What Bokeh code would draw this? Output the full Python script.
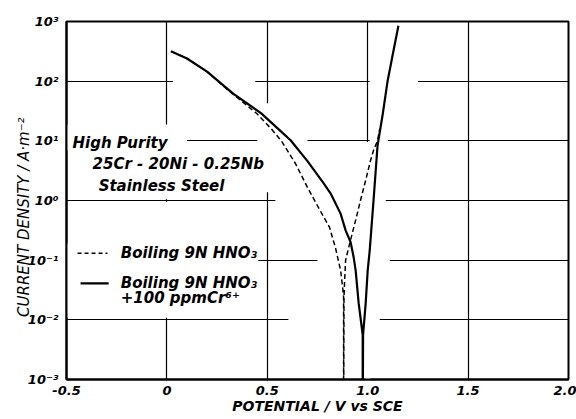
from bokeh.plotting import figure
from bokeh.models import Range1d, FixedTicker, CustomJSTickFormatter, Label, BoxAnnotation
from bokeh.embed import file_html
from bokeh.resources import INLINE
import numpy as np

# Boiling 9N HNO3 (dashed)
potential_plain = [0.02, 0.10, 0.20, 0.30, 0.36, 0.45, 0.52, 0.57, 0.64, 0.70, 0.76, 0.81,
                   0.84, 0.865, 0.875, 0.88, 0.88, 0.882, 0.885, 0.89, 0.914, 0.94, 0.964,
                   0.99, 1.014, 1.03, 1.049, 1.06]
log_cd_plain = [2.50, 2.38, 2.16, 1.86, 1.70, 1.45, 1.20, 1.00, 0.62, 0.22, -0.15, -0.45,
                -0.80, -1.17, -1.45, -1.62, -4.0, -1.62, -1.35, -1.00, -0.67, -0.33, 0.00,
                0.34, 0.67, 0.85, 1.00, 1.20]

# Boiling 9N HNO3 + 100 ppm Cr6+ (solid)
potential_cr = [0.02, 0.10, 0.20, 0.33, 0.47, 0.58, 0.616, 0.70, 0.78, 0.815, 0.865, 0.89,
                0.915, 0.93, 0.94, 0.955, 0.975, 0.975, 0.977, 0.99, 1.00, 1.01, 1.029,
                1.049, 1.075, 1.099, 1.125, 1.153]
log_cd_cr = [2.50, 2.38, 2.16, 1.79, 1.46, 1.12, 1.01, 0.66, 0.29, 0.12, -0.22, -0.50,
             -0.70, -0.95, -1.17, -1.72, -2.25, -4.0, -2.25, -1.72, -1.17, -0.84, 0.00,
             0.92, 1.45, 2.00, 2.45, 2.93]

x_ticks = [-0.5, 0.0, 0.5, 1.0, 1.5, 2.0]
x_tick_labels = ["-0.5", "0", "0.5", "1.0", "1.5", "2.0"]
y_ticks = [1e-3, 1e-2, 1e-1, 1e0, 1e1, 1e2, 1e3]
y_tick_labels = ["10\u207b\u00b3", "10\u207b\u00b2", "10\u207b\u00b9", "10\u2070",
                 "10\u00b9", "10\u00b2", "10\u00b3"]

FONT = "DejaVu Sans"

p = figure(width=576, height=419, x_range=Range1d(-0.5, 2.0), y_range=Range1d(1e-3, 1e3),
           y_axis_type="log", output_backend="svg", toolbar_location=None,
           min_border_left=66, min_border_top=21, min_border_right=8, min_border_bottom=40)
p.background_fill_color = "white"
p.border_fill_color = "white"
p.outline_line_color = "black"
p.outline_line_width = 2

p.xaxis.ticker = FixedTicker(ticks=x_ticks)
p.yaxis.ticker = FixedTicker(ticks=y_ticks)
p.xaxis.formatter = CustomJSTickFormatter(args=dict(tvals=x_ticks, tlabels=x_tick_labels), code="""
for (let i = 0; i < tvals.length; i++) { if (Math.abs(tick - tvals[i]) < 1e-9) return tlabels[i]; }
return '';
""")
p.yaxis.formatter = CustomJSTickFormatter(args=dict(tvals=y_ticks, tlabels=y_tick_labels), code="""
for (let i = 0; i < tvals.length; i++) { if (Math.abs(Math.log10(tick) - Math.log10(tvals[i])) < 1e-6) return tlabels[i]; }
return '';
""")

for ax in (p.xaxis, p.yaxis):
    ax.axis_line_color = "black"
    ax.axis_line_width = 2
    ax.major_tick_line_color = None
    ax.minor_tick_line_color = None
    ax.major_label_text_font = FONT
    ax.major_label_text_font_style = "bold italic"
    ax.major_label_text_font_size = "13px"
    ax.major_label_text_color = "black"
    ax.axis_label_text_font = FONT
    ax.axis_label_text_color = "black"

p.xaxis.major_label_standoff = 0
p.xaxis.axis_label = "POTENTIAL / V vs SCE"
p.xaxis.axis_label_text_font_style = "bold italic"
p.xaxis.axis_label_text_font_size = "14px"
p.xaxis.axis_label_standoff = 0

p.yaxis.major_label_standoff = 2
p.yaxis.axis_label = "CURRENT  DENSITY    /    A\u00b7m\u207b\u00b2"
p.yaxis.axis_label_text_font_style = "italic"
p.yaxis.axis_label_text_font_size = "15px"
p.yaxis.axis_label_standoff = -8

for g in (p.xgrid, p.ygrid):
    g.grid_line_color = "black"
    g.grid_line_alpha = 1.0
    g.grid_line_width = 1.2

# white patches (drawn over the grid, under the curves) that break the grid
# lines around the texts and where the curves cross them, as in the original
gaps = [(-0.5, 0.1, 0.84, 1.27), (-0.405, 0.42, 0.085, 0.84), (-0.5, 0.455, -1.96, -0.72),
        (-0.012, 0.012, 0.02, 1.27), (-0.012, 0.012, -1.96, -0.02),
        (0.03, 0.44, 1.96, 2.04), (1.01, 1.25, 1.96, 2.04),
        (0.45, 0.70, 0.96, 1.04), (1.01, 1.10, 0.96, 1.04),
        (0.54, 1.09, -0.04, 0.04), (0.75, 1.11, -1.04, -0.96), (0.605, 1.06, -2.04, -1.96),
        (0.488, 0.512, 0.14, 1.63), (0.988, 1.012, -3.0, 0.98)]
for l, r, b, t in gaps:
    p.add_layout(BoxAnnotation(left=l, right=r, bottom=10**b, top=10**t, fill_color="white",
                               fill_alpha=1.0, line_color=None, level="underlay"))

cd_plain = [10 ** v for v in log_cd_plain]
cd_cr = [10 ** v for v in log_cd_cr]

p.line(potential_plain, cd_plain, line_color="black", line_width=1.5, line_dash="5 3")
p.line(potential_cr, cd_cr, line_color="black", line_width=2.2)

# legend samples
p.line([-0.445, -0.296], [10**-0.886, 10**-0.886], line_color="black", line_width=1.5, line_dash="4 3")
p.line([-0.43, -0.29], [10**-1.389, 10**-1.389], line_color="black", line_width=2.2)

def add_text(x, logy, txt, size="15px", style="bold italic"):
    p.add_layout(Label(x=x, y=10**logy, text=txt, text_font=FONT, text_font_style=style,
                       text_font_size=size, text_baseline="middle", text_align="left",
                       text_color="black"))

add_text(-0.47, 0.97, "High Purity")
add_text(-0.37, 0.62, "25Cr - 20Ni - 0.25Nb")
add_text(-0.34, 0.25, "Stainless  Steel")
add_text(-0.23, -0.886, "Boiling  9N  HNO\u2083")
add_text(-0.23, -1.39, "Boiling  9N  HNO\u2083")
add_text(-0.23, -1.64, "+100  ppmCr\u2076\u207a")

open("out.html", "w").write(file_html(p, INLINE))
